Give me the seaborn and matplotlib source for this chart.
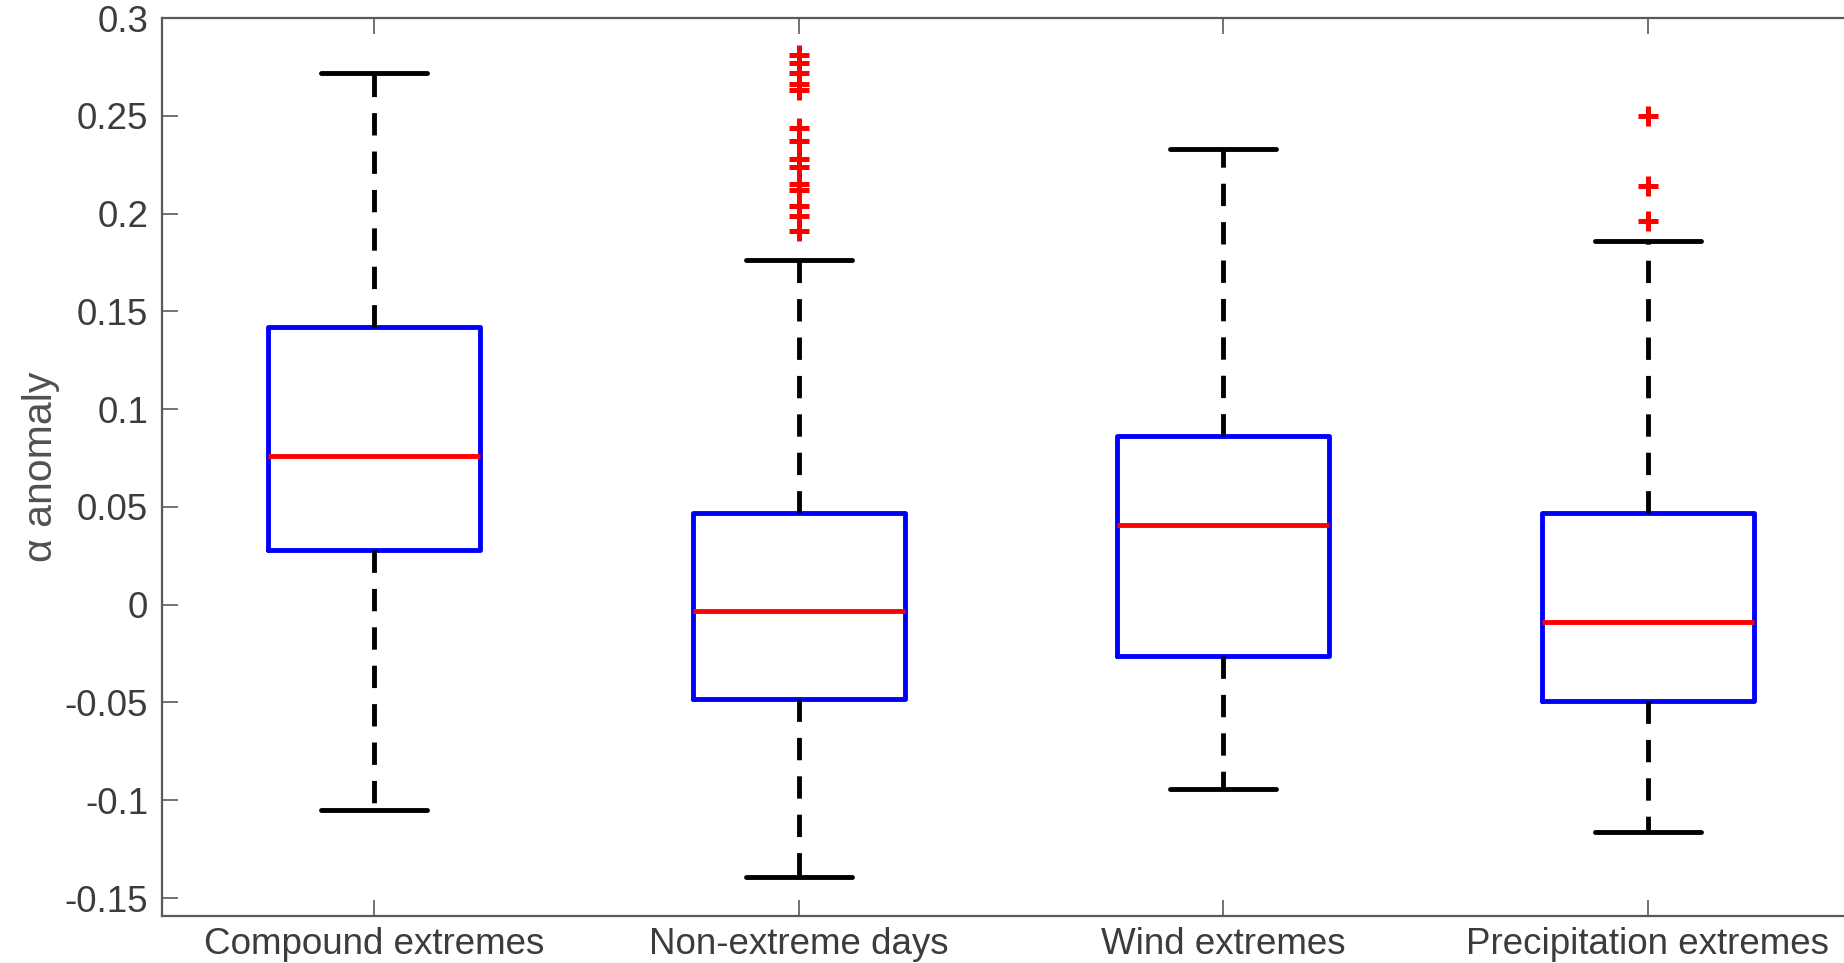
"""
plot.py
───────
Box plots of the alpha anomaly for compound, non-extreme, wind and
precipitation days, drawn in the MATLAB boxplot look.
Box statistics come from the named lists below; outliers are drawn
with seaborn on the same categorical axis.
"""

import matplotlib
matplotlib.use('Agg')
import matplotlib.pyplot as plt
import seaborn as sns


# ── data ───────────────────────────────────────────────────────────────────────

CATEGORIES   = ['Compound extremes', 'Non-extreme days',
                'Wind extremes', 'Precipitation extremes']

WHISKER_LOW  = [-0.105, -0.139, -0.094, -0.116]
Q1           = [0.028, -0.048, -0.026, -0.049]
MEDIAN       = [0.076, -0.003, 0.041, -0.009]
Q3           = [0.142, 0.047, 0.086, 0.047]
WHISKER_HIGH = [0.272, 0.176, 0.233, 0.186]

OUTLIER_CATS = ['Non-extreme days'] * 14 + ['Precipitation extremes'] * 3
OUTLIER_VALS = [0.281, 0.277, 0.272, 0.266, 0.263, 0.244, 0.237,
                0.228, 0.224, 0.215, 0.212, 0.204, 0.199, 0.191,
                0.250, 0.214, 0.196]

Y_TICKS      = [-0.15, -0.1, -0.05, 0, 0.05, 0.1, 0.15, 0.2, 0.25, 0.3]
Y_TICKLABELS = ['-0.15', '-0.1', '-0.05', '0', '0.05', '0.1',
                '0.15', '0.2', '0.25', '0.3']


# ── style ──────────────────────────────────────────────────────────────────────

AXIS_GREY = '#5a5a5a'
TEXT_GREY = '#3c3c3c'
LW        = 3.5


def box_stats():
    """Builds the dicts ax.bxp wants from the summary lists."""
    stats = []
    for i, name in enumerate(CATEGORIES):
        stats.append({
            'label':  name,
            'whislo': WHISKER_LOW[i],
            'q1':     Q1[i],
            'med':    MEDIAN[i],
            'q3':     Q3[i],
            'whishi': WHISKER_HIGH[i],
            'fliers': [],
        })
    return stats


if __name__ == '__main__':
    sns.set_theme(style='white')
    plt.rcParams['font.family'] = ['Liberation Sans', 'DejaVu Sans']

    fig = plt.figure(figsize=(18.44, 9.63), dpi=100)
    ax = fig.add_axes([0.0879, 0.0488, 0.9208, 0.9325])

    positions = list(range(len(CATEGORIES)))
    ax.bxp(
        box_stats(),
        positions=positions,
        widths=0.5,
        capwidths=0.25,
        showfliers=False,
        manage_ticks=False,
        boxprops=dict(color='#0000ff', linewidth=LW),
        medianprops=dict(color='#ff0000', linewidth=LW),
        whiskerprops=dict(color='black', linewidth=LW, linestyle=(0, (4.6, 3.3))),
        capprops=dict(color='black', linewidth=LW),
    )

    # outliers as red plus signs
    sns.stripplot(
        x=OUTLIER_CATS, y=OUTLIER_VALS, order=CATEGORIES,
        jitter=False, marker='+', size=14, linewidth=3.6,
        color='#ff0000', edgecolor='#ff0000', ax=ax, zorder=4
    )

    ax.set_xlim(-0.5, len(CATEGORIES) - 0.5)
    ax.set_ylim(-0.1592, 0.3)
    ax.set_xticks(positions)
    ax.set_xticklabels(CATEGORIES)
    ax.set_yticks(Y_TICKS)
    ax.set_yticklabels(Y_TICKLABELS)

    ax.tick_params(axis='both', direction='in', length=11.5, width=1.2,
                   color=AXIS_GREY, labelcolor=TEXT_GREY, labelsize=26.5,
                   left=True, bottom=True, top=True, right=True)
    ax.tick_params(axis='y', pad=10)
    ax.tick_params(axis='x', pad=8)

    for spine in ax.spines.values():
        spine.set_color(AXIS_GREY)
        spine.set_linewidth(1.6)

    ax.set_xlabel('')
    ax.set_ylabel('α anomaly', fontsize=29.5, color='#505050')
    ax.yaxis.set_label_coords(-0.060, 0.5)

    fig.savefig('out.png', dpi=100)
    plt.close(fig)
